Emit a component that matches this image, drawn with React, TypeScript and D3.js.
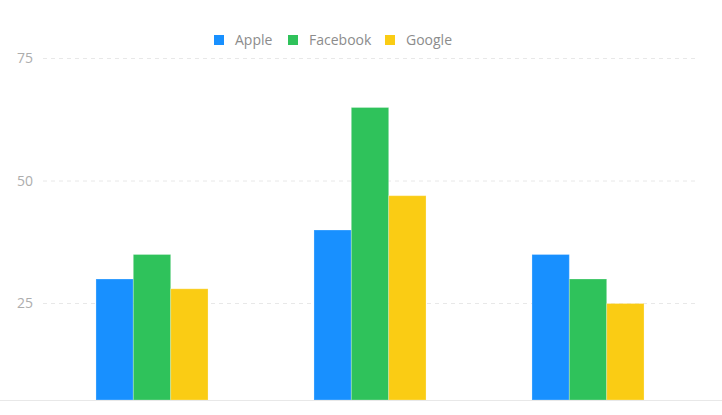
import React from 'react';
import * as d3 from 'd3';

// chart data
const categories = ['G1', 'G2', 'G3'];
const seriesNames = ['Apple', 'Facebook', 'Google'];
const apple = [30, 40, 35];
const facebook = [35, 65, 30];
const google = [28, 47, 25];
const yTicks = [25, 50, 75];

const colors = ['#1890ff', '#2fc25b', '#facc14'];

export default function App() {
  const width = 722;
  const height = 415;
  const left = 43;
  const right = 697;
  const baseY = 400;

  const values = [apple, facebook, google];

  const x0 = d3.scaleBand<string>().domain(categories).range([left, right]);
  const bw = x0.bandwidth();
  const x1 = d3.scaleBand<string>()
    .domain(seriesNames)
    .range([bw * 0.243, bw * 0.757]);
  const y = d3.scaleLinear().domain([0, 80]).range([426, 34]);

  const font = '"Open Sans", "Noto Sans", sans-serif';

  // legend layout
  const legendX = [214, 288, 385];

  return (
    <svg
      width={width}
      height={height}
      style={{ position: 'absolute', left: 0, top: 0, background: '#fff' }}
    >
      {/* grid */}
      {yTicks.map((t) => (
        <g key={t}>
          <line
            x1={left}
            x2={right}
            y1={y(t)}
            y2={y(t)}
            stroke="#e8e8e8"
            strokeDasharray="4 4"
          />
          <text
            x={33}
            y={y(t)}
            dy="0.35em"
            textAnchor="end"
            fontSize={14}
            fill="#adadad"
            fontFamily={font}
          >
            {t}
          </text>
        </g>
      ))}

      {/* bars */}
      {categories.map((c, i) => (
        <g key={c} transform={`translate(${x0(c)},0)`}>
          {seriesNames.map((s, j) => {
            const top = y(values[j][i]);
            return (
              <rect
                key={s}
                x={x1(s)}
                y={top}
                width={x1.bandwidth()}
                height={baseY - top}
                fill={colors[j]}
                stroke="#fff"
                strokeOpacity={0.25}
                strokeWidth={1}
              />
            );
          })}
        </g>
      ))}

      {/* baseline */}
      <line x1={0} x2={width} y1={baseY + 0.5} y2={baseY + 0.5} stroke="#e8e8e8" />

      {/* legend */}
      {seriesNames.map((s, j) => (
        <g key={s} transform={`translate(${legendX[j]},35)`}>
          <rect width={10} height={10} fill={colors[j]} />
          <text
            x={21}
            y={5}
            dy="0.35em"
            fontSize={14}
            fill="#8c8c8c"
            fontFamily={font}
          >
            {s}
          </text>
        </g>
      ))}
    </svg>
  );
}
